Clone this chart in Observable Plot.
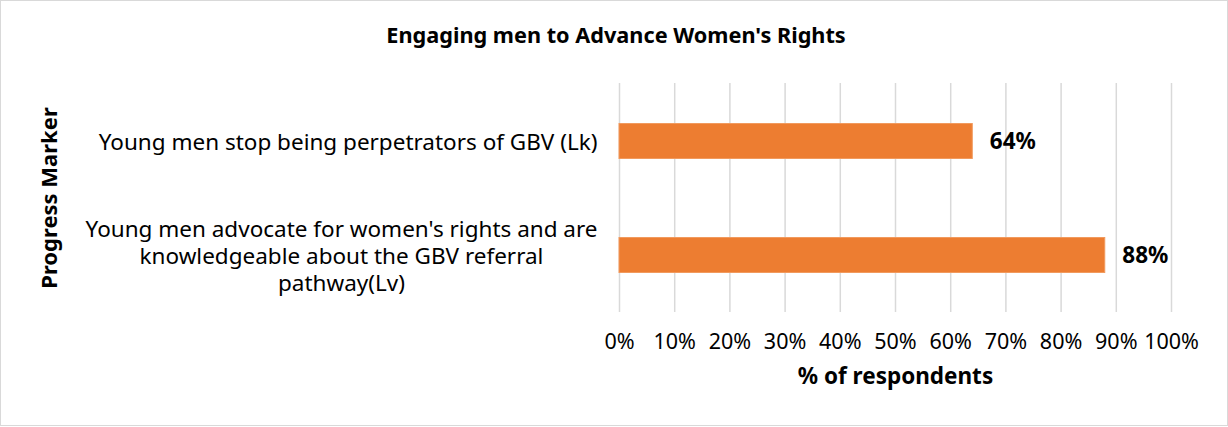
<!DOCTYPE html>
<html>
<head>
<meta charset="utf-8">
<script src="https://cdn.jsdelivr.net/npm/d3@7"></script>
<script src="https://cdn.jsdelivr.net/npm/@observablehq/plot@0.6"></script>
<style>
  html, body { margin: 0; padding: 0; background: #fff; }
  #wrap { width: 1226px; height: 424px; border: 1px solid #d9d9d9; background: #fff; font-family: "Noto Sans", sans-serif; overflow: hidden; }
  #title { height: 62px; line-height: 68px; text-align: center; font-weight: bold; font-size: 21.7px; color: #000; padding-left: 4px; }
</style>
</head>
<body>
<div id="wrap">
  <div id="title"></div>
  <div id="chart"></div>
</div>
<script>
const title = "Engaging men to Advance Women's Rights";
const categories = [
  "Young men stop being perpetrators of GBV (Lk)",
  "Young men advocate for women's rights and are\nknowledgeable about the GBV referral\npathway(Lv)"
];
const values = [0.64, 0.88];
const xTicks = [0, 0.1, 0.2, 0.3, 0.4, 0.5, 0.6, 0.7, 0.8, 0.9, 1.0];
const xTickLabels = ["0%", "10%", "20%", "30%", "40%", "50%", "60%", "70%", "80%", "90%", "100%"];
const valueLabels = ["64%", "88%"];
const yTitle = "Progress Marker";
const xTitle = "% of respondents";

document.getElementById("title").textContent = title;

const FONT = '"Noto Sans", sans-serif';
const catSize = 22.5;
const data = categories.map((c, i) => ({cat: c, value: values[i], label: valueLabels[i]}));

// measure the widest line of each category label so that multi-line labels are centred
// within a right-aligned block (as in the reference)
const ctx = document.createElement("canvas").getContext("2d");
ctx.font = `${catSize}px ${FONT}`;
const gap = 22;
const labelData = data.map(d => {
  const w = d3.max(d.cat.split("\n"), s => ctx.measureText(s).width);
  return {...d, dx: -gap - w / 2};
});

const tickMap = new Map(xTicks.map((t, i) => [t, xTickLabels[i]]));

const chart = Plot.plot({
  width: 1226,
  height: 362,
  marginLeft: 618,
  marginRight: 56,
  marginTop: 20,
  marginBottom: 113,
  style: {fontFamily: FONT, color: "#000", background: "#fff"},
  x: {domain: [0, 1], ticks: xTicks},
  y: {domain: categories, padding: 0, axis: null},
  marks: [
    Plot.gridX(xTicks, {stroke: "#d9d9d9", strokeOpacity: 1, strokeWidth: 1.5}),
    Plot.axisX(xTicks, {
      tickSize: 0, tickPadding: 21, fontSize: 21.5,
      tickFormat: t => tickMap.get(t), label: null, fill: "#000"
    }),
    Plot.barX(data, {
      x: "value", y: "cat", fill: "#ED7D31", stroke: "#F19A5E", strokeWidth: 1,
      insetTop: 39.5, insetBottom: 39.5
    }),
    Plot.text(data, {
      x: "value", y: "cat", text: "label", textAnchor: "start", dx: 17,
      fontWeight: "bold", fontSize: 22.5, fill: "#000"
    }),
    ...labelData.map(d => Plot.text([d], {
      y: "cat", text: "cat", frameAnchor: "left", textAnchor: "middle",
      dx: d.dx, fontSize: catSize, fill: "#000", lineHeight: 1.2
    })),
    Plot.text([yTitle], {
      frameAnchor: "left", textAnchor: "middle", rotate: -90, dx: -570,
      fontWeight: "bold", fontSize: 22, fill: "#000"
    }),
    Plot.text([xTitle], {
      frameAnchor: "bottom", dy: 71, fontWeight: "bold", fontSize: 22.5, fill: "#000"
    })
  ]
});
document.getElementById("chart").appendChild(chart);
</script>
</body>
</html>
